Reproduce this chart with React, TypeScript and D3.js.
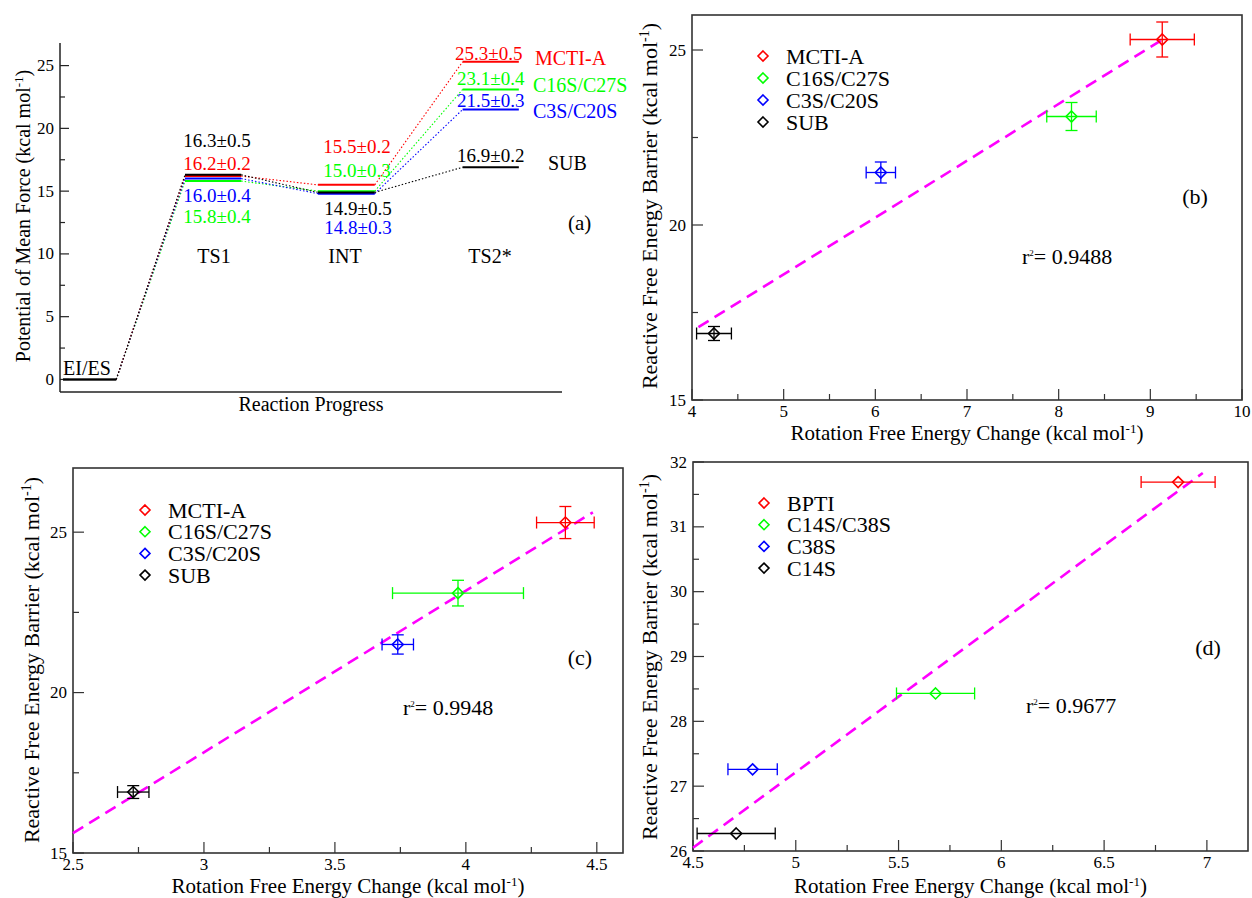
import React from 'react';
import * as d3 from 'd3';

const FONT = "'Liberation Serif', 'Times New Roman', 'DejaVu Serif', serif";

// ---- panel (a): potential of mean force along the reaction path ----
const stateNames = ['EI/ES', 'TS1', 'INT', 'TS2*'];
const stateStart = [0.06, 2.49, 5.14, 8.02];
const stateEnd = [1.12, 3.61, 6.27, 9.14];
const speciesA = ['MCTI-A', 'C16S/C27S', 'C3S/C20S', 'SUB'];
const pmfMCTI = [0, 16.2, 15.5, 25.3];
const pmfC16S = [0, 15.8, 15.0, 23.1];
const pmfC3S = [0, 16.0, 14.8, 21.5];
const pmfSUB = [0, 16.3, 14.9, 16.9];
const errMCTI = [0, 0.2, 0.2, 0.5];
const errC16S = [0, 0.4, 0.3, 0.4];
const errC3S = [0, 0.4, 0.3, 0.3];
const errSUB = [0, 0.5, 0.5, 0.2];
const pmfTicks = [0, 5, 10, 15, 20, 25];

// ---- panels (b)-(d): barrier vs rotation free energy ----
const legendBC = ['MCTI-A', 'C16S/C27S', 'C3S/C20S', 'SUB'];
const legendD = ['BPTI', 'C14S/C38S', 'C38S', 'C14S'];
const rotB = [9.13, 8.14, 6.06, 4.24];
const rotBErr = [0.35, 0.27, 0.16, 0.19];
const rotC = [4.38, 3.97, 3.74, 2.73];
const rotCErr = [0.11, 0.25, 0.06, 0.06];
const barrierBC = [25.3, 23.1, 21.5, 16.9];
const barrierBCErr = [0.5, 0.4, 0.3, 0.2];
const rotD = [6.86, 5.68, 4.79, 4.71];
const rotDErr = [0.18, 0.19, 0.12, 0.19];
const barrierD = [31.69, 28.43, 27.26, 26.27];
const barrierDErr = [0, 0, 0, 0];
const fitBX = [4.07, 9.14];
const fitBY = [17.08, 25.31];
const fitCX = [2.5, 4.485];
const fitCY = [15.62, 25.62];
const fitDX = [4.5, 6.98];
const fitDY = [26.05, 31.83];

const COLORS = ['#ff0000', '#00ff00', '#0000ff', '#000000'];

const stepTicks = (d0: number, d1: number, step: number) => {
  const out: number[] = [];
  for (let i = Math.ceil(d0 / step - 1e-9); i * step <= d1 + 1e-9; i++) out.push(+(i * step).toFixed(4));
  return out;
};

const diamond = (cx: number, cy: number, r: number) =>
  `M${cx},${cy - r}L${cx + r},${cy}L${cx},${cy + r}L${cx - r},${cy}Z`;

function PanelA() {
  const x = d3.scaleLinear().domain([0, 10]).range([60, 562]);
  const y = d3.scaleLinear().domain([-1, 26.8]).range([392, 43]);
  const series = [pmfMCTI, pmfC16S, pmfC3S, pmfSUB];
  const errs = [errMCTI, errC16S, errC3S, errSUB];
  const minor = stepTicks(0, 26, 2.5).filter((v) => v % 5 !== 0);
  const lab = (i: number, s: number) => `${series[s][i].toFixed(1)}±${errs[s][i].toFixed(1)}`;
  // label layout: [state, series, x, baseline, anchor]
  const labels: [number, number, number, number, string][] = [
    [1, 3, 217, 147, 'middle'], [1, 0, 217, 170, 'middle'], [1, 2, 217, 202, 'middle'], [1, 1, 217, 223, 'middle'],
    [2, 0, 357, 153, 'middle'], [2, 1, 357, 177, 'middle'], [2, 3, 358, 215, 'middle'], [2, 2, 358, 234, 'middle'],
    [3, 0, 455, 60, 'start'], [3, 1, 457, 85, 'start'], [3, 2, 457, 107, 'start'], [3, 3, 457, 162, 'start'],
  ];
  const nameLayout: [number, number][] = [[535, 65], [533, 92], [533, 118], [548, 170]];
  const drawOrder = [1, 2, 0, 3];
  return (
    <g style={{ fontFamily: FONT }}>
      <line x1={60} x2={60} y1={43} y2={392} stroke="#222" strokeWidth={1.5} />
      <line x1={60} x2={562} y1={392} y2={392} stroke="#222" strokeWidth={1.5} />
      {pmfTicks.map((t) => (
        <g key={t}>
          <line x1={60} x2={69} y1={y(t)} y2={y(t)} stroke="#222" strokeWidth={1.2} />
          <text x={54} y={y(t)} textAnchor="end" dominantBaseline="central" fontSize={17}>{t}</text>
        </g>
      ))}
      {minor.map((t) => (
        <line key={t} x1={60} x2={65} y1={y(t)} y2={y(t)} stroke="#222" strokeWidth={1.2} />
      ))}
      <text transform="translate(30,216) rotate(-90)" textAnchor="middle" fontSize={20}>
        Potential of Mean Force (kcal mol<tspan dy={-7} fontSize={13}>-1</tspan><tspan dy={7}>)</tspan>
      </text>
      <text x={311} y={411} textAnchor="middle" fontSize={20}>Reaction Progress</text>
      {drawOrder.map((s) => (
        <g key={s}>
          {series[s].slice(0, -1).map((v, i) => (
            <line key={i} x1={x(stateEnd[i])} y1={y(v)} x2={x(stateStart[i + 1])} y2={y(series[s][i + 1])}
              stroke={COLORS[s]} strokeWidth={1.1} strokeDasharray="1.5,2" />
          ))}
          {series[s].map((v, i) => (
            <line key={'l' + i} x1={x(stateStart[i])} x2={x(stateEnd[i])} y1={y(v)} y2={y(v)}
              stroke={i === 0 ? '#000' : COLORS[s]} strokeWidth={i === 0 ? 1.5 : 2} />
          ))}
        </g>
      ))}
      <text x={63} y={375} fontSize={20}>{stateNames[0]}</text>
      <text x={214} y={263} textAnchor="middle" fontSize={20}>{stateNames[1]}</text>
      <text x={345} y={263} textAnchor="middle" fontSize={20}>{stateNames[2]}</text>
      <text x={490} y={263} textAnchor="middle" fontSize={20}>{stateNames[3]}</text>
      {labels.map(([i, s, lx, ly, anchor], k) => (
        <text key={k} x={lx} y={ly} textAnchor={anchor} fontSize={19} fill={COLORS[s]}>{lab(i, s)}</text>
      ))}
      {speciesA.map((n, s) => (
        <text key={n} x={nameLayout[s][0]} y={nameLayout[s][1]} fontSize={20} fill={COLORS[s]}>{n}</text>
      ))}
      <text x={568} y={230} fontSize={21}>(a)</text>
    </g>
  );
}

type ScatterCfg = {
  xDomain: [number, number]; xRange: [number, number];
  yDomain: [number, number]; yRange: [number, number];
  xStep: number; xMinor: number; yStep: number; yMinor: number;
  xs: number[]; xErr: number[]; ys: number[]; yErr: number[];
  fitX: number[]; fitY: number[];
  names: string[]; legend: [number, number, number];
  tag: string; tagPos: [number, number];
  r2: string; r2Pos: [number, number];
  yTitlePos: [number, number]; xTitleY: number;
};

function Scatter({ c }: { c: ScatterCfg }) {
  const x = d3.scaleLinear().domain(c.xDomain).range(c.xRange);
  const y = d3.scaleLinear().domain(c.yDomain).range(c.yRange);
  const [L, R] = c.xRange;
  const [B, T] = c.yRange;
  const xMaj = stepTicks(c.xDomain[0], c.xDomain[1], c.xStep);
  const xMin = stepTicks(c.xDomain[0], c.xDomain[1], c.xMinor).filter((v) => !xMaj.includes(v));
  const yMaj = stepTicks(c.yDomain[0], c.yDomain[1], c.yStep);
  const yMin = stepTicks(c.yDomain[0], c.yDomain[1], c.yMinor).filter((v) => !yMaj.includes(v));
  const cap = 6;
  const line = d3.line<number>().x((_, i) => x(c.fitX[i])).y((_, i) => y(c.fitY[i]));
  const [lx, ly0, ldy] = c.legend;
  return (
    <g style={{ fontFamily: FONT }}>
      <rect x={L} y={T} width={R - L} height={B - T} fill="none" stroke="#333" strokeWidth={1.6} />
      {xMaj.map((t) => (
        <g key={t}>
          <line x1={x(t)} x2={x(t)} y1={B} y2={B - 11} stroke="#333" strokeWidth={1.2} />
          <text x={x(t)} y={B + 17} textAnchor="middle" fontSize={17}>{t}</text>
        </g>
      ))}
      {xMin.map((t) => <line key={t} x1={x(t)} x2={x(t)} y1={B} y2={B - 6} stroke="#333" strokeWidth={1.2} />)}
      {yMaj.map((t) => (
        <g key={t}>
          <line x1={L} x2={L + 11} y1={y(t)} y2={y(t)} stroke="#333" strokeWidth={1.2} />
          <text x={L - 6} y={y(t)} textAnchor="end" dominantBaseline="central" fontSize={17}>{t}</text>
        </g>
      ))}
      {yMin.map((t) => <line key={t} x1={L} x2={L + 6} y1={y(t)} y2={y(t)} stroke="#333" strokeWidth={1.2} />)}
      <text transform={`translate(${c.yTitlePos[0]},${c.yTitlePos[1]}) rotate(-90)`} textAnchor="middle" fontSize={22}>
        Reactive Free Energy Barrier (kcal mol<tspan dy={-8} fontSize={14}>-1</tspan><tspan dy={8}>)</tspan>
      </text>
      <text x={(L + R) / 2} y={c.xTitleY} textAnchor="middle" fontSize={21}>
        Rotation Free Energy Change (kcal mol<tspan dy={-7} fontSize={13}>-1</tspan><tspan dy={7}>)</tspan>
      </text>
      <path d={line([0, 1]) || ''} fill="none" stroke="#ff00ff" strokeWidth={2.6} strokeDasharray="12,7" />
      {c.xs.map((xv, i) => {
        const px = x(xv);
        const py = y(c.ys[i]);
        const col = COLORS[i];
        return (
          <g key={i} stroke={col} fill="none" strokeWidth={1.3}>
            {c.xErr[i] > 0 && (
              <>
                <line x1={x(xv - c.xErr[i])} x2={x(xv + c.xErr[i])} y1={py} y2={py} />
                <line x1={x(xv - c.xErr[i])} x2={x(xv - c.xErr[i])} y1={py - cap} y2={py + cap} />
                <line x1={x(xv + c.xErr[i])} x2={x(xv + c.xErr[i])} y1={py - cap} y2={py + cap} />
              </>
            )}
            {c.yErr[i] > 0 && (
              <>
                <line x1={px} x2={px} y1={y(c.ys[i] - c.yErr[i])} y2={y(c.ys[i] + c.yErr[i])} />
                <line x1={px - cap} x2={px + cap} y1={y(c.ys[i] - c.yErr[i])} y2={y(c.ys[i] - c.yErr[i])} />
                <line x1={px - cap} x2={px + cap} y1={y(c.ys[i] + c.yErr[i])} y2={y(c.ys[i] + c.yErr[i])} />
              </>
            )}
            <path d={diamond(px, py, 5.5)} strokeWidth={1.6} />
          </g>
        );
      })}
      {c.names.map((n, i) => (
        <g key={n}>
          <path d={diamond(lx, ly0 + i * ldy, 5)} fill="none" stroke={COLORS[i]} strokeWidth={1.6} />
          <text x={lx + 23} y={ly0 + i * ldy} dominantBaseline="central" fontSize={22}>{n}</text>
        </g>
      ))}
      <text x={c.tagPos[0]} y={c.tagPos[1]} textAnchor="middle" dominantBaseline="central" fontSize={22}>{c.tag}</text>
      <text x={c.r2Pos[0]} y={c.r2Pos[1] + 7} fontSize={22}>
        r<tspan dy={-8} fontSize={9}>2</tspan><tspan dy={8}>= {c.r2}</tspan>
      </text>
    </g>
  );
}

const panelB: ScatterCfg = {
  xDomain: [4, 10], xRange: [692, 1242], yDomain: [15, 26], yRange: [400, 15],
  xStep: 1, xMinor: 0.5, yStep: 5, yMinor: 2.5,
  xs: rotB, xErr: rotBErr, ys: barrierBC, yErr: barrierBCErr, fitX: fitBX, fitY: fitBY,
  names: legendBC, legend: [763, 56, 22], tag: '(b)', tagPos: [1195, 196],
  r2: '0.9488', r2Pos: [1022, 257], yTitlePos: [657, 206], xTitleY: 440,
};
const panelC: ScatterCfg = {
  xDomain: [2.5, 4.6], xRange: [73, 623], yDomain: [15, 27], yRange: [853, 468],
  xStep: 0.5, xMinor: 0.25, yStep: 5, yMinor: 2.5,
  xs: rotC, xErr: rotCErr, ys: barrierBC, yErr: barrierBCErr, fitX: fitCX, fitY: fitCY,
  names: legendBC, legend: [145, 510, 21.7], tag: '(c)', tagPos: [580, 657],
  r2: '0.9948', r2Pos: [403, 708], yTitlePos: [39, 660], xTitleY: 893,
};
const panelD: ScatterCfg = {
  xDomain: [4.5, 7.2], xRange: [693, 1248], yDomain: [26, 32], yRange: [851, 462],
  xStep: 0.5, xMinor: 0.25, yStep: 1, yMinor: 0.5,
  xs: rotD, xErr: rotDErr, ys: barrierD, yErr: barrierDErr, fitX: fitDX, fitY: fitDY,
  names: legendD, legend: [764, 503, 21.7], tag: '(d)', tagPos: [1208, 647],
  r2: '0.9677', r2Pos: [1026, 706], yTitlePos: [657, 657], xTitleY: 893,
};

export default function App() {
  return (
    <svg width={1252} height={898} style={{ position: 'absolute', left: 0, top: 0, background: '#fff' }}>
      <rect width={1252} height={898} fill="#fff" />
      <PanelA />
      <Scatter c={panelB} />
      <Scatter c={panelC} />
      <Scatter c={panelD} />
    </svg>
  );
}
